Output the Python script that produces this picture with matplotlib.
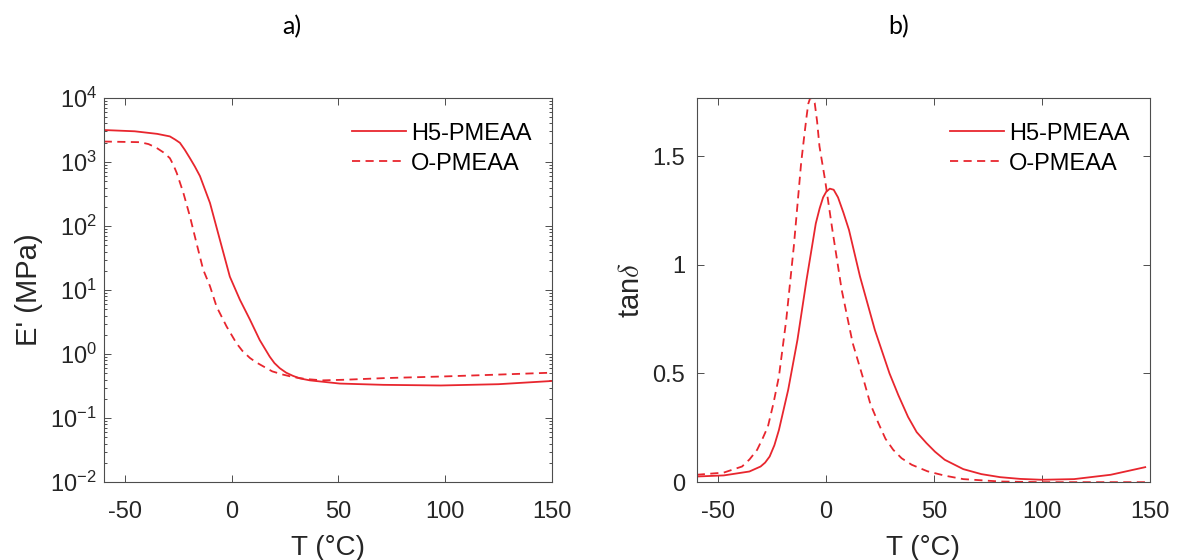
import numpy as np
import matplotlib
matplotlib.use("Agg")
import matplotlib.pyplot as plt
from matplotlib.ticker import LogLocator, FormatStrFormatter, NullFormatter

plt.rcParams['font.family'] = ['Liberation Sans', 'DejaVu Sans']
plt.rcParams['mathtext.fontset'] = 'custom'
plt.rcParams['mathtext.rm'] = 'Liberation Sans'
plt.rcParams['mathtext.it'] = 'Liberation Sans:italic'
plt.rcParams['axes.unicode_minus'] = False

# storage modulus E' (MPa), log10 values read from panel a)
T_h5_E = [-60, -45.5, -35, -29, -26.5, -24.3, -22, -19.6, -17.3, -14.9, -10.2, -5.6, -0.9,
          3.8, 8.5, 13.1, 17.8, 20, 22.5, 25.5, 28.7, 32, 36.6, 50.6, 71, 98, 125, 150]
logE_h5 = [3.50, 3.48, 3.44, 3.40, 3.35, 3.30, 3.19, 3.06, 2.93, 2.78, 2.36, 1.79, 1.21,
           0.85, 0.54, 0.22, -0.04, -0.14, -0.22, -0.29, -0.34, -0.38, -0.41, -0.46, -0.48,
           -0.49, -0.47, -0.42]

T_o_E = [-60, -43, -39, -35.2, -32, -29, -27.3, -25.8, -22.7, -19.6, -16.5, -13.4, -10.2,
         -7.1, -2.4, 2.2, 5, 8.5, 11.5, 14.7, 19, 24, 29, 35, 42.6, 53.4, 71.4, 98.4, 125, 150]
logE_o = [3.32, 3.31, 3.28, 3.22, 3.15, 3.06, 2.95, 2.83, 2.52, 2.15, 1.73, 1.32, 1.06,
          0.74, 0.43, 0.17, 0.05, -0.06, -0.13, -0.19, -0.27, -0.32, -0.36, -0.39, -0.41,
          -0.40, -0.375, -0.35, -0.32, -0.29]

# tan delta read from panel b)
T_h5_tan = [-60, -47.5, -35.6, -30.4, -28.3, -26.2, -24, -21.9, -17.6, -13.3, -9.1, -4.8, -3,
            -1.4, 0, 1.7, 3.5, 5.5, 8, 10.6, 15.7, 22.6, 29.4, 33.5, 38, 42, 46.5, 50.5, 55,
            63.6, 72, 80.7, 90, 100, 115, 132, 148]
tan_h5 = [0.026, 0.031, 0.049, 0.072, 0.09, 0.118, 0.17, 0.24, 0.425, 0.655, 0.93, 1.19, 1.26,
          1.31, 1.335, 1.35, 1.345, 1.31, 1.24, 1.16, 0.946, 0.70, 0.50, 0.40, 0.30, 0.23, 0.18,
          0.14, 0.103, 0.060, 0.037, 0.023, 0.015, 0.011, 0.014, 0.034, 0.069]

T_o_tan = [-60, -47.5, -39, -35.5, -32, -29.5, -27, -24.5, -21.9, -18.5, -15, -11.6, -10.3,
           -9.1, -8.3, -7.4, -6.5, -5.3, -4.2, -3.1, -0.5, 2.9, 7.2, 12.3, 17.4, 20.5, 24.3,
           27.5, 31.1, 35, 39.7, 47, 55, 63.6, 80.7, 100, 148]
tan_o = [0.034, 0.044, 0.072, 0.105, 0.149, 0.20, 0.256, 0.36, 0.486, 0.747, 1.084, 1.468, 1.58,
         1.68, 1.74, 1.767, 1.765, 1.744, 1.66, 1.545, 1.39, 1.16, 0.885, 0.64, 0.47, 0.36, 0.27,
         0.20, 0.149, 0.11, 0.080, 0.05, 0.03, 0.014, 0.003, 0.0, 0.0]

labels = ['H5-PMEAA', 'O-PMEAA']
red = '#e8262e'
axcol = '#4d4d4d'
txtcol = '#262626'
dash = (0, (4.5, 3))

fig = plt.figure(figsize=(11.79, 5.6), dpi=100)
ax1 = fig.add_axes([0.088, 0.139, 0.380, 0.686])
ax2 = fig.add_axes([0.591, 0.139, 0.384, 0.686])

ax1.plot(T_h5_E, 10 ** np.array(logE_h5), color=red, lw=1.3, label=labels[0])
ax1.plot(T_o_E, 10 ** np.array(logE_o), color=red, lw=1.3, ls=dash, label=labels[1])
ax1.set_yscale('log')
ax1.set_ylim(1e-2, 1e4)
ax1.set_xlim(-60, 150)
ax1.yaxis.set_major_locator(LogLocator(base=10, numticks=10))
ax1.yaxis.set_minor_locator(LogLocator(base=10, subs=np.arange(2, 10), numticks=10))
ax1.yaxis.set_minor_formatter(NullFormatter())
ax1.set_ylabel("E' (MPa)", fontsize=21, color=txtcol, labelpad=5)
ax1.tick_params(axis='y', which='major', pad=5)

ax2.plot(T_h5_tan, tan_h5, color=red, lw=1.3, label=labels[0])
ax2.plot(T_o_tan, tan_o, color=red, lw=1.3, ls=dash, label=labels[1])
ax2.set_xlim(-60, 150)
ax2.set_ylim(0, 1.767)
ax2.set_yticks([0, 0.5, 1, 1.5])
ax2.yaxis.set_major_formatter(FormatStrFormatter('%g'))
ax2.set_ylabel(r'tan$\delta$', fontsize=21, color=txtcol, labelpad=5, math_fontfamily='cm')
ax2.tick_params(axis='y', which='major', pad=8.5)

for ax, lx in ((ax1, 0.955), (ax2, 0.956)):
    ax.set_xticks([-50, 0, 50, 100, 150])
    ax.set_xlabel('T (°C)', fontsize=20, color=txtcol, labelpad=8.5)
    ax.tick_params(which='both', direction='in', top=True, right=True,
                   labelsize=17, colors=axcol, labelcolor=txtcol, width=0.7)
    ax.tick_params(axis='x', which='major', pad=13.5)
    ax.tick_params(which='major', length=5)
    ax.tick_params(which='minor', length=2.5)
    for s in ax.spines.values():
        s.set_color(axcol)
        s.set_linewidth(0.8)
    ax.legend(loc='upper right', bbox_to_anchor=(lx, 0.936), frameon=False, fontsize=17,
              handlelength=2.3, handletextpad=0.2, labelspacing=0.34,
              borderpad=0, borderaxespad=0)

fig.text(0.2477, 0.953, 'a)', fontsize=18, ha='center', va='center', family='Lato')
fig.text(0.762, 0.953, 'b)', fontsize=18, ha='center', va='center', family='Lato')

fig.savefig('out.png', dpi=100)
